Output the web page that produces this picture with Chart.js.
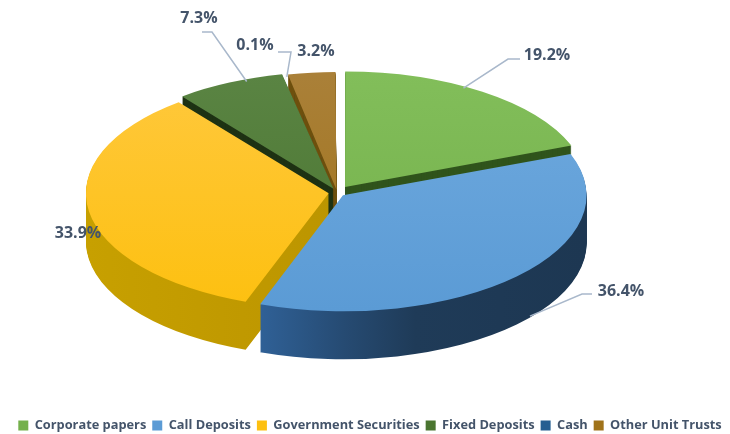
<!DOCTYPE html>
<html>
<head>
<meta charset="utf-8">
<script src="https://cdn.jsdelivr.net/npm/chart.js@4.4.0/dist/chart.umd.min.js"></script>
<style>
  html, body { margin: 0; padding: 0; background: #fff; }
  #wrap { width: 730px; height: 434px; }
</style>
</head>
<body>
<div id="wrap"><canvas id="pie"></canvas></div>
<script>
// Portfolio mix, % of total
const categories = ['Corporate papers', 'Call Deposits', 'Government Securities', 'Fixed Deposits', 'Cash', 'Other Unit Trusts'];
const shares = [19.2, 36.4, 33.9, 7.3, 0.1, 3.2];
const shareLabels = ['19.2%', '36.4%', '33.9%', '7.3%', '0.1%', '3.2%'];

const topColors = ['#74B04B', '#5B9BD5', '#FDC010', '#4A7530', '#255E91', '#A0731A'];
const topLight = ['#82BE5A', '#6EA9DE', '#FFC83C', '#5A8443', '#2E6CA3', '#AA8038'];
// side faces: list of [stop, colour] across the pie width
const sideColors = [
    [[0, '#30541C']],
    [[0.3, '#31649C'], [0.5, '#264B73'], [0.65, '#1F3B58'], [1, '#1D3752']],
    [[0, '#C7A000'], [0.6, '#BA9300'], [1, '#B08A00']],
    [[0, '#1E3214']],
    [[0, '#15385A']],
    [[0, '#6E500E']]
];
const explode = [27, 16, 16, 16, 12, 12];

// fake 3d: stretch the pie sideways and stack darker copies under it
const CX = 337, CY = 192.5, SX = 2.1, R = 115, DEPTH = 48;

// label placement: text centre, slice fraction/radius where the leader starts, elbow
const labelSpots = [
    { x: 547, y: 55, frac: 0.43, rf: 0.99, drop: 0, elbow: [[508, 59], [520, 59]] },
    { x: 621, y: 291, frac: 0.46, rf: 1.0, drop: DEPTH, elbow: [[582, 294], [592, 294]] },
    { x: 78, y: 233 },
    { x: 199, y: 18, frac: 0.65, rf: 1.0, drop: 0, elbow: [[212, 32], [202, 32]] },
    { x: 255, y: 45, frac: 0.5, rf: 1.0, drop: 0, elbow: [[291, 52], [278, 52]] },
    { x: 316, y: 51 }
];

function sliceOffset(arc) {
    const half = (arc.startAngle + arc.endAngle) / 2;
    const off = (arc.options.offset || 0) / 4;
    return [Math.cos(half) * off, Math.sin(half) * off];
}

function toScreen(arc, px, py) {
    return [CX + SX * (px - arc.x), CY + (py - arc.y)];
}

const pie3d = {
    id: 'pie3d',
    beforeDatasetsDraw(chart) {
        const ctx = chart.ctx;
        const arcs = chart.getDatasetMeta(0).data;
        const c = arcs[0];
        ctx.save();
        ctx.translate(CX, CY);
        ctx.scale(SX, 1);
        ctx.translate(-c.x, -c.y);

        // back slices first
        const order = arcs.map((a, i) => i).sort((i, j) =>
            Math.sin((arcs[i].startAngle + arcs[i].endAngle) / 2) -
            Math.sin((arcs[j].startAngle + arcs[j].endAngle) / 2));

        order.forEach(i => {
            const stops = sideColors[i];
            let fill = stops[0][1];
            if (stops.length > 1) {
                fill = ctx.createLinearGradient(c.x - R, 0, c.x + R, 0);
                stops.forEach(s => fill.addColorStop(s[0], s[1]));
            }
            const side = Object.create(arcs[i]);
            side.options = Object.assign({}, arcs[i].options, {
                backgroundColor: fill,
                borderWidth: 0
            });
            for (let d = DEPTH; d > 0; d--) {
                ctx.save();
                ctx.translate(0, d);
                side.draw(ctx);
                ctx.restore();
            }
        });
    },
    afterDatasetsDraw(chart) {
        const ctx = chart.ctx;
        ctx.restore();

        const arcs = chart.getDatasetMeta(0).data;
        ctx.save();
        ctx.strokeStyle = '#A9B8CB';
        ctx.lineWidth = 1.5;
        labelSpots.forEach((s, i) => {
            if (!s.elbow) return;
            const arc = arcs[i];
            const [ox, oy] = sliceOffset(arc);
            const ang = arc.startAngle + s.frac * (arc.endAngle - arc.startAngle);
            const p = toScreen(arc,
                arc.x + ox + Math.cos(ang) * arc.outerRadius * s.rf,
                arc.y + oy + Math.sin(ang) * arc.outerRadius * s.rf);
            ctx.beginPath();
            ctx.moveTo(p[0], p[1] + s.drop);
            s.elbow.forEach(e => ctx.lineTo(e[0], e[1]));
            ctx.stroke();
        });

        ctx.fillStyle = '#44546A';
        ctx.font = 'bold 16px "Open Sans"';
        ctx.textAlign = 'center';
        ctx.textBaseline = 'middle';
        labelSpots.forEach((s, i) => {
            ctx.fillText(shareLabels[i], s.x, s.y);
        });
        ctx.restore();
    }
};

new Chart(document.getElementById('pie'), {
    type: 'pie',
    data: {
        labels: categories,
        datasets: [{
            data: shares,
            backgroundColor: (c) => {
                const chart = c.chart;
                const i = c.dataIndex;
                const area = chart.chartArea;
                if (!area) return topColors[i];
                const cy = (area.top + area.bottom) / 2;
                const g = chart.ctx.createLinearGradient(0, cy - R, 0, cy + R);
                g.addColorStop(0, topLight[i]);
                g.addColorStop(1, topColors[i]);
                return g;
            },
            borderWidth: 0,
            offset: explode,
            clip: false
        }]
    },
    options: {
        responsive: true,
        maintainAspectRatio: false,
        animation: false,
        radius: R,
        layout: { padding: { left: 10, bottom: -8 } },
        plugins: {
            legend: {
                position: 'bottom',
                labels: {
                    boxWidth: 10,
                    boxHeight: 10,
                    padding: 6,
                    color: '#44546A',
                    font: { family: 'Open Sans', weight: 'bold', size: 12.8 },
                    generateLabels(chart) {
                        const items = Chart.overrides.pie.plugins.legend.labels.generateLabels(chart);
                        items.forEach((it, i) => {
                            it.fillStyle = topColors[i];
                            it.strokeStyle = topColors[i];
                            it.lineWidth = 0;
                        });
                        return items;
                    }
                }
            },
            tooltip: { enabled: false }
        }
    },
    plugins: [pie3d]
});
</script>
</body>
</html>
